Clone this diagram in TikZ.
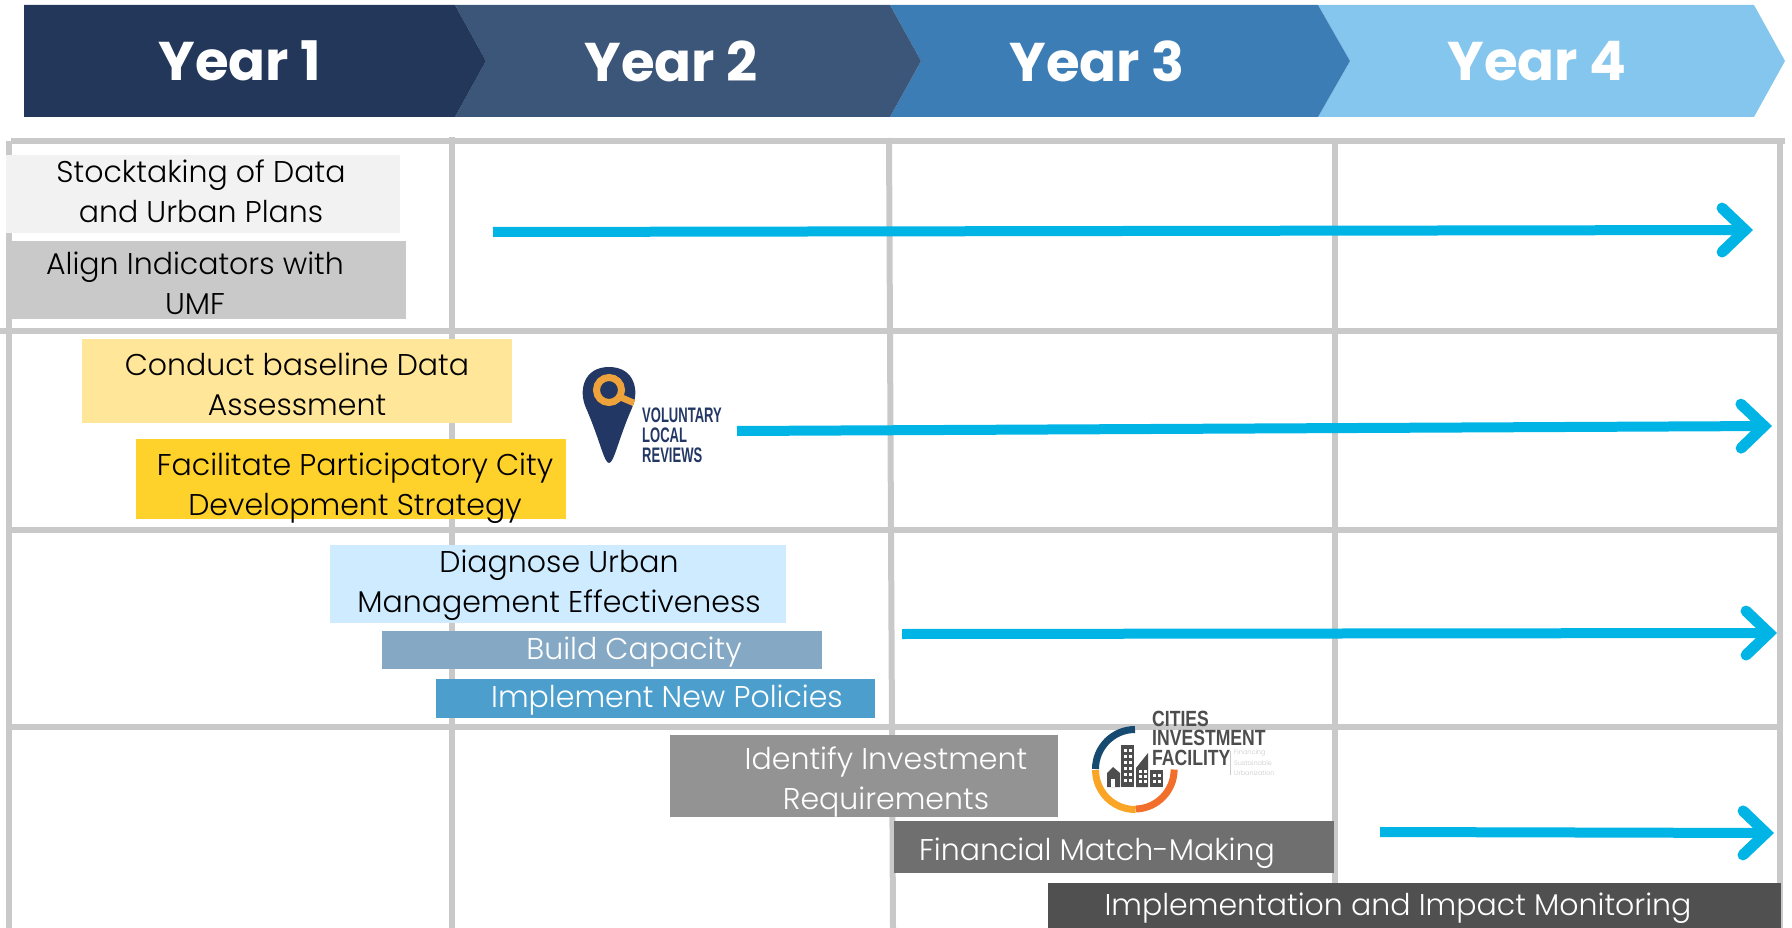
\documentclass[tikz,border=0pt]{standalone}
\usepackage{fontspec}
\setmainfont{Poppins}[UprightFont=* Light,BoldFont=* Bold]
\newfontfamily\logofont[FakeStretch=0.62]{Liberation Sans Bold}
\newfontfamily\ciffont[FakeStretch=0.8]{Liberation Sans Bold}
\usetikzlibrary{arrows.meta}
\definecolor{yeara}{HTML}{223759}
\definecolor{yearb}{HTML}{3C5679}
\definecolor{yearc}{HTML}{3C7DB5}
\definecolor{yeard}{HTML}{85C6EE}
\definecolor{gridc}{HTML}{C9C9C9}
\definecolor{arrowc}{HTML}{00B4E6}
\definecolor{pinc}{HTML}{223764}
\definecolor{ringc}{HTML}{EDA23B}
\definecolor{cifc}{HTML}{4D4D4D}
\definecolor{cifa}{HTML}{174A70}
\definecolor{cifb}{HTML}{FAA525}
\definecolor{cifd}{HTML}{F26F2B}
\definecolor{taskb}{HTML}{FFE699}
\definecolor{taskc}{HTML}{FFD12B}
\definecolor{taskd}{HTML}{CEEBFF}
\definecolor{taske}{HTML}{85A9C5}
\definecolor{taskf}{HTML}{4C9FCD}
\definecolor{taskg}{HTML}{939393}
\definecolor{taskh}{HTML}{6F6F6F}
\definecolor{taski}{HTML}{505050}
\tikzset{
    yearbar/.style={inner sep=0pt,text=white,font=\fontsize{54.5}{54.5}\selectfont\bfseries},
    gridl/.style={draw=gridc,line width=6pt},
    taskbox/.style={inner sep=0pt,draw=none},
    tasktxt/.style={inner sep=0pt,align=center,font=\fontsize{30}{40}\selectfont},
    whitetxt/.style={tasktxt,text=white},
    longarrow/.style={draw=arrowc,line width=10pt,
        -{Straight Barb[line cap=round,line join=miter,length=23pt,width=44pt,line width=11pt]}},
    logotxt/.style={inner sep=0pt,anchor=west,font=\logofont\fontsize{21}{21}\selectfont},
    ciftxt/.style={logotxt,text=cifc,font=\ciffont\fontsize{22}{22}\selectfont},
    cifsmall/.style={inner sep=0pt,anchor=west,text=gridc,font=\fontsize{6.5}{6.5}\selectfont},
}
\begin{document}
\begin{tikzpicture}[x=1pt,y=-1pt]
\useasboundingbox (0,0) rectangle (1792,928);
% year banner
\fill[yeard] (1318,5) -- (1754,5) -- (1785,61) -- (1754,117) -- (1318,117) -- (1350,61) -- cycle;
\fill[yearc] (890,5) -- (1318,5) -- (1350,61) -- (1318,117) -- (890,117) -- (921,61) -- cycle;
\fill[yearb] (455,5) -- (890,5) -- (921,61) -- (890,117) -- (455,117) -- (486,61) -- cycle;
\fill[yeara] (24,5) -- (455,5) -- (486,61) -- (455,117) -- (24,117) -- cycle;
\node[yearbar] (yr1) at (240,61) {Year 1};
\node[yearbar] (yr2) at (671,61) {Year 2};
\node[yearbar] (yr3) at (1097,61) {Year 3};
\node[yearbar] (yr4) at (1537,61) {Year 4};
% grid
\draw[gridl] (11,141) -- (1785,141);
\draw[gridl] (0,331) -- (1783,331);
\draw[gridl] (9,530) -- (1783,530);
\draw[gridl] (7,727) -- (1783,727);
\draw[gridl] (9,141) -- (9,928);
\draw[gridl] (452,137) -- (452,928);
\draw[gridl] (889,138) -- (893,928);
\draw[gridl] (1335,138) -- (1335,928);
\draw[gridl] (1780,141) -- (1780,928);
% tasks
\node[taskbox,fill=black!5,minimum width=394pt,minimum height=78pt] (stock) at (203,194) {};
\node[tasktxt] (stockt) at (201,191) {Stocktaking of Data\\and Urban Plans};
\node[taskbox,fill=gridc,minimum width=400pt,minimum height=78pt] (align) at (206,280) {};
\node[tasktxt] (alignt) at (195,283) {Align Indicators with\\UMF};
\node[taskbox,fill=taskb,minimum width=430pt,minimum height=84pt] (base) at (297,381) {};
\node[tasktxt] (baset) at (297,384) {Conduct baseline Data\\Assessment};
\node[taskbox,fill=taskc,minimum width=430pt,minimum height=80pt] (city) at (351,479) {};
\node[tasktxt] (cityt) at (355,488) {Facilitate Participatory City\\Development Strategy};
\node[taskbox,fill=taskd,minimum width=456pt,minimum height=78pt] (diag) at (558,584) {};
\node[tasktxt] (diagt) at (559,585) {Diagnose Urban\\Management Effectiveness};
\node[taskbox,fill=taske,minimum width=440pt,minimum height=38pt] (build) at (602,650) {};
\node[whitetxt] (buildt) at (634,652) {Build Capacity};
\node[taskbox,fill=taskf,minimum width=439pt,minimum height=39pt] (impl) at (655,698.5) {};
\node[whitetxt] (implt) at (667,700) {Implement New Policies};
\node[taskbox,fill=taskg,minimum width=388pt,minimum height=82pt] (inv) at (864,776) {};
\node[whitetxt] (invt) at (886,782) {Identify Investment\\Requirements};
\node[taskbox,fill=taskh,minimum width=440pt,minimum height=52pt] (fin) at (1114,847) {};
\node[whitetxt] (fint) at (1097,853) {Financial Match-Making};
\node[taskbox,fill=taski,minimum width=733pt,minimum height=45pt] (mon) at (1414.5,905.5) {};
\node[whitetxt] (mont) at (1398,908) {Implementation and Impact Monitoring};
% arrows
\coordinate (a1) at (493,232);
\coordinate (b1) at (1753,230);
\coordinate (a2) at (737,431);
\coordinate (b2) at (1772,426);
\coordinate (a3) at (902,634);
\coordinate (b3) at (1777,633);
\coordinate (a4) at (1380,832);
\coordinate (b4) at (1774,833);
\foreach \i in {1,...,4}
    \draw[longarrow] (a\i) -- (b\i);
% voluntary local reviews logo
\fill[pinc] (609,463) .. controls (604,463) and (600,440) .. (586,408)
    .. controls (578,390) and (584,367) .. (609,367)
    .. controls (634,367) and (640,390) .. (632,408)
    .. controls (618,440) and (614,463) .. (609,463) -- cycle;
\draw[ringc,line width=7pt] (609,390) circle (12.5pt);
\draw[ringc,line width=6.5pt] (620,397) -- (634,403);
\node[logotxt,text=pinc] (vlr1) at (642,415) {VOLUNTARY};
\node[logotxt,text=pinc] (vlr2) at (642,435) {LOCAL};
\node[logotxt,text=pinc] (vlr3) at (642,455) {REVIEWS};
% cities investment facility logo
\draw[cifa,line width=7pt] (1095.5,769) arc (180:90:39.5pt);
\draw[cifb,line width=7pt] (1095.5,770) arc (180:271:39.5pt);
\draw[cifd,line width=7pt] (1136,809) arc (272:360:39.5pt);
\fill[cifc] (1107,787) -- (1107,773) -- (1113,767) -- (1120,773) -- (1120,787) -- cycle;
\fill[cifc] (1121,745) rectangle (1134,787);
\fill[cifc] (1136,768) -- (1148,753) -- (1148,787) -- (1136,787) -- cycle;
\fill[cifc] (1150,770) rectangle (1163,787);
\foreach \wx in {1124,1129}
    \foreach \wy in {749,755,761,767,773,779}
        \fill[white] (\wx,\wy) rectangle +(3,3);
\foreach \wx in {1139,1144}
    \foreach \wy in {770,775,780}
        \fill[white] (\wx,\wy) rectangle +(3,3);
\foreach \wx in {1153,1158}
    \foreach \wy in {774,780}
        \fill[white] (\wx,\wy) rectangle +(3,3);
\fill[white] (1111,779) rectangle +(4,8);
\node[ciftxt] (cif1) at (1152,719) {CITIES};
\node[ciftxt] (cif2) at (1152,738) {INVESTMENT};
\node[ciftxt] (cif3) at (1152,758) {FACILITY};
\draw[gridc,line width=.7pt] (1230,751) -- (1230,775);
\node[cifsmall] (cif4) at (1234,753) {Financing};
\node[cifsmall] (cif5) at (1234,763) {Sustainable};
\node[cifsmall] (cif6) at (1234,773) {Urbanization};
\end{tikzpicture}
\end{document}
